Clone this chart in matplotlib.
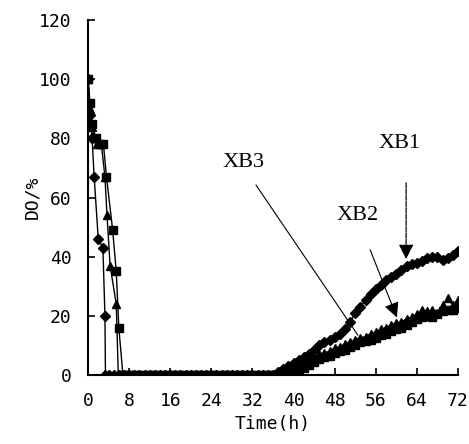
import matplotlib
matplotlib.use("Agg")
import matplotlib.pyplot as plt

# ---- data ----
# early drop phase + zero phase + rising phase
zero_t = [8, 9, 10, 11, 12, 13, 14, 15, 16, 17, 18, 19, 20, 21, 22, 23, 24, 25, 26,
          27, 28, 29, 30, 31, 32, 33, 34, 35, 36]
zero_v = [0, 0, 0, 0, 0, 0, 0, 0, 0, 0, 0, 0, 0, 0, 0, 0, 0, 0, 0,
          0, 0, 0, 0, 0, 0, 0, 0, 0, 0]

xb1_t_start = [0, 0.4, 0.8, 1.2, 2.0, 2.9, 3.3, 3.4, 4, 5, 6, 7]
xb1_v_start = [100, 88, 80, 67, 46, 43, 20, 0, 0, 0, 0, 0]
xb1_t_end = [37, 38, 39, 40, 41, 42, 43, 44, 45, 46, 47, 48, 49, 50, 51, 52, 53, 54,
             55, 56, 57, 58, 59, 60, 61, 62, 63, 64, 65, 66, 67, 68, 69, 70, 71, 72]
xb1_v_end = [1, 2, 3, 4, 5, 6, 7, 8.5, 10, 11, 12, 13, 14, 15.5, 18, 21, 23, 25.5,
             27.5, 29, 30.5, 32, 33, 34, 35.5, 37, 37.5, 38, 38.5, 39.5, 40, 40, 39, 39.5, 40.5, 42]

xb2_t_start = [0, 0.4, 0.8, 1.2, 1.8, 2.6, 3.3, 3.7, 4.3, 5.5, 5.9, 6, 7]
xb2_v_start = [100, 90, 84, 80, 78, 78, 67, 54, 37, 24, 0, 0, 0]
xb2_t_end = [37, 38, 39, 40, 41, 42, 43, 44, 45, 46, 47, 48, 49, 50, 51, 52, 53, 54,
             55, 56, 57, 58, 59, 60, 61, 62, 63, 64, 65, 66, 67, 68, 69, 70, 71, 72]
xb2_v_end = [0, 0.5, 1, 2, 3, 4, 5, 6, 7, 7.5, 8, 9, 9.5, 10.5, 11, 12, 12.5, 13,
             14, 14.5, 15.5, 16, 17, 17.5, 18, 19, 19.5, 20.5, 22, 21.5, 22, 21, 23.5, 26, 23.5, 25.5]

xb3_t_start = [0, 0.4, 0.8, 1.5, 2.2, 3.0, 3.6, 4.8, 5.5, 6.0, 6.8, 7]
xb3_v_start = [100, 92, 85, 80, 78, 78, 67, 49, 35, 16, 0, 0]
xb3_t_end = [37, 38, 39, 40, 41, 42, 43, 44, 45, 46, 47, 48, 49, 50, 51, 52, 53, 54,
             55, 56, 57, 58, 59, 60, 61, 62, 63, 64, 65, 66, 67, 68, 69, 70, 71, 72]
xb3_v_end = [0, 0, 0.5, 1, 1.5, 2.5, 3.5, 4.5, 5.5, 6, 6.5, 7.5, 8, 8.5, 9.5, 10, 11, 11.5,
             12, 12.5, 13.5, 14, 15, 15.5, 16, 17, 18, 19, 19.5, 20, 19.5, 20.5, 21.5, 22, 22, 22.5]

x_ticks = [0, 8, 16, 24, 32, 40, 48, 56, 64, 72]
y_ticks = [0, 20, 40, 60, 80, 100, 120]

series = {
    "XB1": (xb1_t_start + zero_t + xb1_t_end, xb1_v_start + zero_v + xb1_v_end, "D"),
    "XB2": (xb2_t_start + zero_t + xb2_t_end, xb2_v_start + zero_v + xb2_v_end, "^"),
    "XB3": (xb3_t_start + zero_t + xb3_t_end, xb3_v_start + zero_v + xb3_v_end, "s"),
}

fig = plt.figure(figsize=(4.69, 4.44), dpi=100)
ax = fig.add_axes([0.1876, 0.1554, 0.789, 0.7995])

for name, (t, v, m) in series.items():
    ax.plot(t, v, color="black", lw=1.0, marker=m, ms=5.5,
            markerfacecolor="black", markeredgecolor="black")

ax.set_xlim(0, 72)
ax.set_ylim(0, 120)
ax.set_xticks(x_ticks)
ax.set_yticks(y_ticks)
mono = "DejaVu Sans Mono"
ax.set_xticklabels([str(v) for v in x_ticks], family=mono, fontsize=13)
ax.set_yticklabels([str(v) for v in y_ticks], family=mono, fontsize=13)
ax.tick_params(axis="y", direction="in", length=5, width=1.2, color="black", pad=12)
ax.tick_params(axis="x", direction="in", length=5, width=1.2, color="black", pad=12)
for s in ["top", "right"]:
    ax.spines[s].set_visible(False)
for s in ["left", "bottom"]:
    ax.spines[s].set_linewidth(1.5)
    ax.spines[s].set_color("black")

ax.set_xlabel("Time(h)", family=mono, fontsize=13, labelpad=4)
ax.set_ylabel("DO/%", family=mono, fontsize=13, labelpad=-2)

serif = "Liberation Serif"
ax.text(60.7, 78.4, "XB1", family=serif, fontsize=16, ha="center", va="center")
ax.annotate("", xy=(61.9, 38.2), xytext=(61.9, 65.9),
            arrowprops=dict(arrowstyle="-|>,head_length=0.9,head_width=0.45",
                            color="black", lw=0.9, linestyle=(0, (4, 1))))
ax.text(52.5, 54, "XB2", family=serif, fontsize=16, ha="center", va="center")
ax.annotate("", xy=(60.3, 18.6), xytext=(54.7, 43.2),
            arrowprops=dict(arrowstyle="-|>,head_length=0.9,head_width=0.45",
                            color="black", lw=0.8))
ax.text(30.2, 72, "XB3", family=serif, fontsize=16, ha="center", va="center")
ax.plot([32.7, 52.5], [64.2, 13.5], color="black", lw=0.8)

fig.savefig("out.png", dpi=100)
